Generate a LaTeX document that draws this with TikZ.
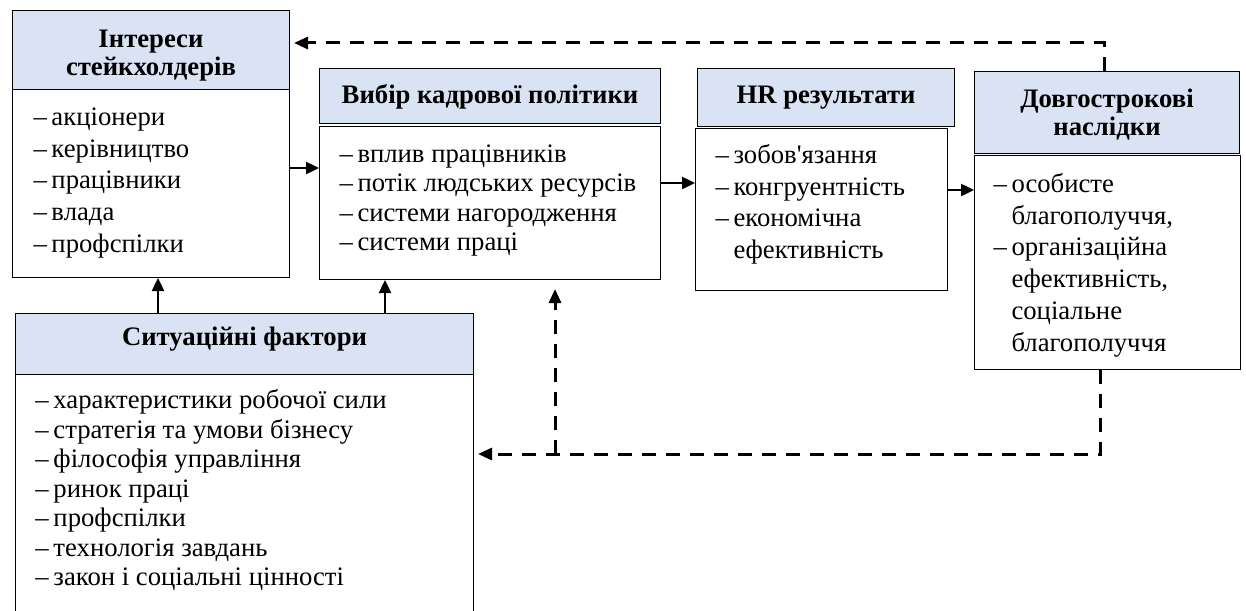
\documentclass[tikz,border=0pt]{standalone}
\usepackage{fontspec}
\setmainfont{Liberation Serif}
\newfontfamily\plainserif{Liberation Serif}
\usetikzlibrary{arrows.meta}
\definecolor{hdrblue}{RGB}{218,227,243}
\newcommand{\cellbox}[4]{\parbox[t][#1][t]{#2}{\lineskiplimit=-100pt\relax\vspace*{\dimexpr#3-\ht\strutbox\relax}#4}}
\newcommand{\itm}[1]{\strut\makebox[18pt][l]{–}#1\par}
\newcommand{\cnt}{\\\hspace*{18pt}}
\tikzset{
  hdr/.style={draw=black, line width=1pt, fill=hdrblue, anchor=north west, inner sep=0pt,
              font=\bfseries\fontsize{26.7}{28}\selectfont},
  bdy/.style={draw=black, line width=1pt, fill=white, anchor=north west, inner sep=0pt,
              font=\fontsize{26.7}{31.7}\selectfont},
  arr/.style={line width=2.4pt, -{Triangle[length=13pt,width=12pt]}},
  darr/.style={line width=3pt, dash pattern=on 14pt off 10pt, -{Triangle[length=14pt,width=12pt]}},
}
\begin{document}
\begin{tikzpicture}[x=1pt,y=-1pt]
\useasboundingbox (0,0) rectangle (1246,610);
% box 1
\node[hdr] (h1) at (12,10) {\cellbox{79pt}{277pt}{37pt}{\centering\strut Інтереси\\стейкхолдерів}};
\node[bdy] (b1) at (12,89) {\cellbox{188pt}{277pt}{36pt}{\leftskip=21pt
  \itm{акціонери}\itm{керівництво}\itm{працівники}\itm{влада}\itm{профспілки}}};
% box 2
\node[hdr] (h2) at (319,68) {\cellbox{55pt}{341pt}{35pt}{\centering\strut Вибір кадрової політики}};
\node[bdy, font=\fontsize{26.7}{29.4}\selectfont] (b2) at (319,126) {\cellbox{153pt}{341pt}{36pt}{\leftskip=20pt
  \itm{вплив працівників}\itm{потік людських ресурсів}\itm{системи нагородження}\itm{системи праці}}};
% box 3
\node[hdr] (h3) at (697,68) {\cellbox{58pt}{257pt}{35pt}{\centering\strut HR результати}};
\node[bdy] (b3) at (695,128) {\cellbox{162pt}{252pt}{35pt}{\leftskip=20pt
  \itm{зобов{\plainserif'}язання}\itm{конгруентність}\itm{економічна\cnt ефективність}}};
% box 4
\node[hdr] (h4) at (974,71) {\cellbox{82pt}{265pt}{36pt}{\centering\strut Довгострокові\\наслідки}};
\node[bdy] (b4) at (974,155) {\cellbox{214pt}{266pt}{37pt}{\leftskip=19pt
  \itm{особисте\cnt благополуччя,}\itm{організаційна\cnt ефективність,\cnt соціальне\cnt благополуччя}}};
% box 5
\node[hdr] (h5) at (15,313) {\cellbox{61pt}{458pt}{32pt}{\centering\strut Ситуаційні фактори}};
\node[bdy, font=\fontsize{26.7}{29.5}\selectfont] (b5) at (15,374) {\cellbox{240pt}{458pt}{34pt}{\leftskip=20pt
  \itm{характеристики робочої сили}\itm{стратегія та умови бізнесу}\itm{філософія управління}\itm{ринок праці}\itm{профспілки}\itm{технологія завдань}\itm{закон і соціальні цінності}}};
% solid connectors
\draw[arr] (b1.east |- 0,168) -- (b2.west |- 0,168);
\draw[arr] (b2.east |- 0,183) -- (b3.west |- 0,183);
\draw[arr] (b3.east |- 0,190) -- (b4.west |- 0,190);
\draw[arr] (h5.north -| 158,0) -- (b1.south -| 158,0);
\draw[arr] (h5.north -| 385,0) -- (b2.south -| 385,0);
% dashed connectors
\draw[darr, shorten >=4pt] (h4.north -| 1104,0) |- (h1.east |- 0,43);
\coordinate (j) at (555,454);
\draw[darr, shorten >=4pt] (b4.south -| 1100,0) |- (b5.east |- 0,454);
\draw[darr, shorten >=9pt] (j) -- (b2.south -| 555,0);
\end{tikzpicture}
\end{document}
